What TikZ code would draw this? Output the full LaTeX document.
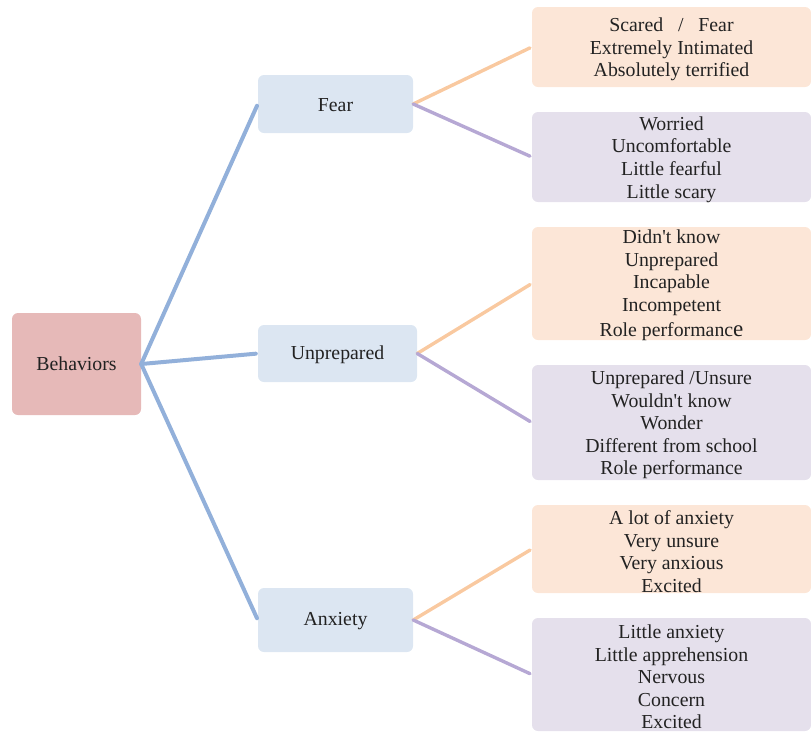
\documentclass[tikz,border=0pt]{standalone}
\usepackage{fontspec}
\setmainfont{Liberation Serif}
\definecolor{rootfill}{HTML}{E6B9B8}
\definecolor{branchfill}{HTML}{DCE6F2}
\definecolor{warmfill}{HTML}{FCE6D7}
\definecolor{coolfill}{HTML}{E5E0EC}
\definecolor{branchline}{HTML}{92B0DA}
\definecolor{warmline}{HTML}{F9C9A0}
\definecolor{coolline}{HTML}{B6A8D4}
\definecolor{ink}{HTML}{222222}
\tikzset{
  box/.style={rectangle, rounded corners=6pt, inner sep=0pt},
  words/.style={inner sep=0pt, align=center, text=ink,
    font=\fontsize{19.8}{22.6}\selectfont},
  rootbox/.style={box, fill=rootfill},
  branchbox/.style={box, fill=branchfill},
  warmbox/.style={box, fill=warmfill, minimum width=279pt},
  coolbox/.style={box, fill=coolfill, minimum width=279pt},
  trunk/.style={draw=branchline, line width=4pt, line cap=round, shorten >=2pt},
  warmlink/.style={draw=warmline, line width=3.4pt, line cap=round, shorten >=2pt},
  coollink/.style={draw=coolline, line width=3.4pt, line cap=round, shorten >=2pt}
}
\newcommand{\apos}{\textquotesingle}
\begin{document}
\begin{tikzpicture}[x=1pt, y=-1pt]
\useasboundingbox (0,0) rectangle (811,732);

% root
\node[rootbox, minimum width=129pt, minimum height=102pt] (beh) at (76.5,364) {};
\node[words] (behT) at (beh.center) {Behaviors};

% second level
\node[branchbox, minimum width=155pt, minimum height=58pt] (fear) at (335.5,104) {};
\node[branchbox, minimum width=159pt, minimum height=57pt] (unprep) at (337.5,353.5) {};
\node[branchbox, minimum width=155pt, minimum height=64pt] (anx) at (335.5,620) {};
\node[words] (fearT) at ([yshift=-1pt]fear.center) {Fear};
\node[words] (unprepT) at ([yshift=-1pt]unprep.center) {Unprepared};
\node[words] (anxT) at ([yshift=-1pt]anx.center) {Anxiety};

% leaves
\node[warmbox, minimum height=80pt] (fearA) at (671.5,47) {};
\node[coolbox, minimum height=90pt] (fearB) at (671.5,157) {};
\node[warmbox, minimum height=113pt] (unprepA) at (671.5,283.5) {};
\node[coolbox, minimum height=115pt] (unprepB) at (671.5,422.5) {};
\node[warmbox, minimum height=88pt] (anxA) at (671.5,549) {};
\node[coolbox, minimum height=113pt] (anxB) at (671.5,674.5) {};

\node[words] (fearAT) at ([yshift=-2.5pt]fearA.center)
  {Scared \ \ / \ \ Fear\\Extremely Intimated\\Absolutely terrified};
\node[words] (fearBT) at ([yshift=-2.5pt]fearB.center)
  {Worried\\Uncomfortable\\Little fearful\\Little scary};
\node[words] (unprepAT) at ([yshift=-2pt]unprepA.center)
  {Didn\apos t know\\Unprepared\\Incapable\\Incompetent\\[3pt]Role performanc{\fontsize{23}{22.6}\selectfont e}};
\node[words] (unprepBT) at ([yshift=-2.5pt]unprepB.center)
  {Unprepared /Unsure\\Wouldn\apos t know\\Wonder\\Different from school\\Role performance};
\node[words] (anxAT) at ([yshift=-2.5pt]anxA.center)
  {A lot of anxiety\\Very unsure\\Very anxious\\Excited};
\node[words] (anxBT) at ([yshift=-2.5pt]anxB.center)
  {Little anxiety\\Little apprehension\\Nervous\\Concern\\Excited};

% connectors
\draw[trunk] (beh.east) -- (fear.west);
\draw[trunk] (beh.east) -- (unprep.west);
\draw[trunk] (beh.east) -- (anx.west);

\draw[warmlink] (fear.east) -- (fearA.west);
\draw[coollink] (fear.east) -- (fearB.west);
\draw[warmlink] (unprep.east) -- (unprepA.west);
\draw[coollink] (unprep.east) -- (unprepB.west);
\draw[warmlink] (anx.east) -- (anxA.west);
\draw[coollink] (anx.east) -- (anxB.west);
\end{tikzpicture}
\end{document}
